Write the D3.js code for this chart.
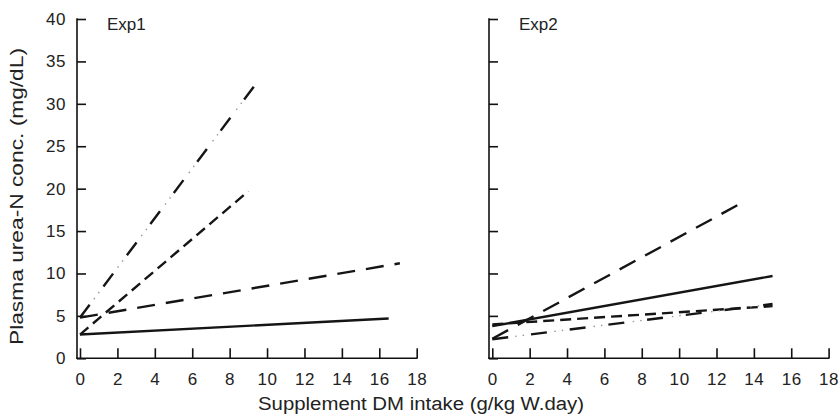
<!DOCTYPE html>
<html>
<head>
<meta charset="utf-8">
<script src="https://cdn.jsdelivr.net/npm/d3@7/dist/d3.min.js"></script>
<style>
  html, body { margin: 0; padding: 0; background: #fff; }
  svg { display: block; font-family: "Liberation Sans", Arial, sans-serif; }
  .axis path, .axis line { stroke: #111; }
  .axis text { fill: #222; font-size: 17px; letter-spacing: 0.6px; }
</style>
</head>
<body>
<svg id="chart" width="840" height="418"></svg>
<script>
// Regression lines of plasma urea-N against supplement intake, two experiments.
const panels = ["Exp1", "Exp2"];
const xTicks = [0, 2, 4, 6, 8, 10, 12, 14, 16, 18];
const yTicks = [0, 5, 10, 15, 20, 25, 30, 35, 40];

// Each treatment line: [start intake, end intake] and [start conc., end conc.]
const exp1Solid      = { x: [0, 16.5], y: [2.8, 4.7] };
const exp1Dash       = { x: [0, 9.0],  y: [2.8, 19.7] };
const exp1LongDash   = { x: [0, 17.1], y: [4.8, 11.2] };
const exp1DashDotDot = { x: [0, 9.35], y: [4.8, 32.2] };

const exp2Solid      = { x: [0, 15.0], y: [3.8, 9.7] };
const exp2Dash       = { x: [0, 15.0], y: [4.0, 6.15] };
const exp2LongDash   = { x: [0, 13.5], y: [2.3, 18.5] };
const exp2DashDotDot = { x: [0, 15.0], y: [2.25, 6.4] };

const lineSets = [
  [exp1Solid, exp1Dash, exp1LongDash, exp1DashDotDot],
  [exp2Solid, exp2Dash, exp2LongDash, exp2DashDotDot]
];
const styles = ["solid", "dash", "longdash", "dashdotdot"];

const svg = d3.select("#chart");
const yTop = 19, yBottom = 358.3;
const frames = [
  { axisX: 77,  x0: 80,    x1: 416.7 },
  { axisX: 489, x0: 492.3, x1: 828.6 }
];

const y = d3.scaleLinear().domain([0, 40]).range([yBottom, yTop]);

frames.forEach((f, i) => {
  const x = d3.scaleLinear().domain([0, 18]).range([f.x0, f.x1]);

  // y axis with inward ticks
  const ya = svg.append("g").attr("class", "axis")
    .attr("transform", `translate(${f.axisX},0)`)
    .call(d3.axisLeft(y).tickValues(yTicks).tickSizeInner(-9).tickSizeOuter(0).tickPadding(11)
      .tickFormat(i === 0 ? d3.format("d") : () => ""));
  ya.select(".domain").remove();
  ya.selectAll("line").attr("stroke-width", 1.6);
  ya.append("line").attr("x1", 0).attr("x2", 0).attr("y1", yTop - 0.8).attr("y2", yBottom + 0.8)
    .attr("stroke", "#111").attr("stroke-width", 1.6);

  // x axis with inward ticks
  const xa = svg.append("g").attr("class", "axis")
    .attr("transform", `translate(0,${yBottom})`)
    .call(d3.axisBottom(x).tickValues(xTicks).tickSizeInner(-10).tickSizeOuter(0).tickPadding(15)
      .tickFormat(d3.format("d")));
  xa.select(".domain").remove();
  xa.selectAll("line").attr("stroke-width", 1.6);
  xa.append("line").attr("x1", f.axisX - 0.8).attr("x2", f.x1 + 0.8).attr("y1", 0).attr("y2", 0)
    .attr("stroke", "#111").attr("stroke-width", 1.6);

  svg.append("text").attr("x", f.axisX + 30).attr("y", 30)
    .attr("font-size", 17).attr("fill", "#222").text(panels[i]);

  const line = d3.line().x(d => x(d[0])).y(d => y(d[1]));
  lineSets[i].forEach((s, j) => {
    const pts = [[s.x[0], s.y[0]], [s.x[1], s.y[1]]];
    const st = styles[j];
    const g = svg.append("g");
    if (st === "solid") {
      g.append("path").attr("d", line(pts)).attr("fill", "none")
        .attr("stroke", "#151515").attr("stroke-width", 2.4);
    } else if (st === "dash") {
      g.append("path").attr("d", line(pts)).attr("fill", "none")
        .attr("stroke", "#151515").attr("stroke-width", 2.4)
        .attr("stroke-dasharray", "11,6");
    } else if (st === "longdash") {
      g.append("path").attr("d", line(pts)).attr("fill", "none")
        .attr("stroke", "#151515").attr("stroke-width", 2.4)
        .attr("stroke-dasharray", "18,11");
    } else {
      g.append("path").attr("d", line(pts)).attr("fill", "none")
        .attr("stroke", "#151515").attr("stroke-width", 2.4)
        .attr("stroke-dasharray", "16,23");
      g.append("path").attr("d", line(pts)).attr("fill", "none")
        .attr("stroke", "#9a9a9a").attr("stroke-width", 1.4)
        .attr("stroke-dasharray", "0,23,1.5,6,1.5,7.5");
    }
  });
});

// axis titles
svg.append("text").attr("x", 421).attr("y", 410).attr("text-anchor", "middle")
  .attr("font-size", 18).attr("fill", "#222")
  .attr("textLength", 326).attr("lengthAdjust", "spacingAndGlyphs")
  .text("Supplement DM intake (g/kg W.day)");
svg.append("text").attr("transform", "translate(23,196.5) rotate(-90)").attr("text-anchor", "middle")
  .attr("font-size", 18).attr("fill", "#222")
  .attr("textLength", 297).attr("lengthAdjust", "spacingAndGlyphs")
  .text("Plasma urea-N conc. (mg/dL)");
</script>
</body>
</html>
